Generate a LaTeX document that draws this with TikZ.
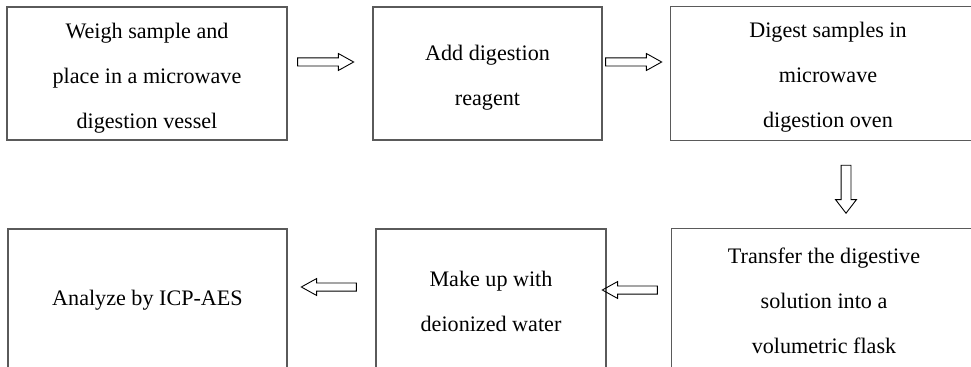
\documentclass[tikz,border=0pt]{standalone}
\usepackage{fontspec}
\setmainfont{Liberation Serif}
\usetikzlibrary{shapes.arrows}
\def\px{0.75pt}
\definecolor{boxline}{HTML}{5A5A5A}
\tikzset{
  stepbox/.style={draw=boxline, line width=1.1*\px, rectangle, inner sep=0pt},
  openbox/.style={stepbox, draw=none},
  boxside/.style={draw=boxline, line width=1.1*\px},
  toprow/.style={minimum height=133*\px},
  botrow/.style={minimum height=142*\px},
  boxtext/.style={inner sep=0pt, align=center, font=\fontsize{16.6pt}{33.75pt}\selectfont},
  blockarrow/.style={draw=black, line width=0.9*\px, single arrow, inner xsep=0pt,
    inner ysep=3.6*\px, single arrow head extend=4.4*\px, single arrow tip angle=58,
    minimum height=56*\px},
}
\begin{document}
\begin{tikzpicture}[x=0.75pt, y=-0.75pt]
\useasboundingbox (0,0) rectangle (971,367);
\fill[white] (0,0) rectangle (971,367);
\clip (0,0) rectangle (971,367);
% top row boxes
\node[stepbox, toprow, minimum width=280*\px] (b1) at (147,73.5) {};
\node[stepbox, toprow, minimum width=229*\px] (b2) at (487.5,73.5) {};
\node[openbox, toprow, minimum width=360*\px] (b3) at (851,73.5) {};
\draw[boxside] (b3.north east) -- (b3.north west) -- (b3.south west) -- (b3.south east);
% bottom row boxes
\node[stepbox, botrow, minimum width=279*\px] (b4) at (147.5,300) {};
\node[stepbox, botrow, minimum width=230*\px] (b5) at (491,300) {};
\node[openbox, botrow, minimum width=340*\px] (b6) at (842,300) {};
\draw[boxside] (b6.north east) -- (b6.north west) -- (b6.south west);
% texts
\node[boxtext] (t1) at (147,78) {Weigh sample and\\place in a microwave\\digestion vessel};
\node[boxtext] (t2) at (487.5,78) {Add digestion\\reagent};
\node[boxtext] (t3) at (828,77) {Digest samples in\\microwave\\digestion oven};
\node[boxtext] (t4) at (147.5,300) {Analyze by ICP-AES};
\node[boxtext] (t5) at (491,301) {Make up with\\deionized water};
\node[boxtext] (t6) at (824,301) {Transfer the digestive\\solution into a\\volumetric flask};
% arrows
\node[blockarrow] (a1) at (322,62) {};
\node[blockarrow] (a2) at (630,62) {};
\node[blockarrow, minimum height=48*\px, inner ysep=4.5*\px, single arrow head extend=5.5*\px, single arrow tip angle=75, rotate=-90] (a3) at (846,186) {};
\node[blockarrow, minimum height=55*\px, rotate=180] (a4) at (633.5,290) {};
\node[blockarrow, minimum height=55*\px, rotate=180] (a5) at (332.5,287) {};
\end{tikzpicture}
\end{document}
